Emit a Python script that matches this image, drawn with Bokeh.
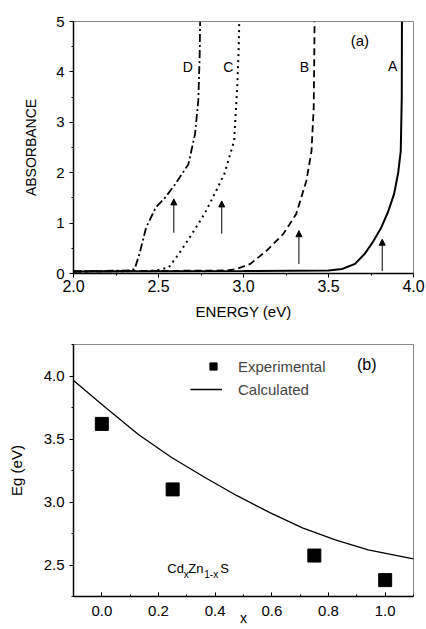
from bokeh.plotting import figure
from bokeh.layouts import column
from bokeh.models import (Arrow, NormalHead, Label, Legend, LegendItem,
                          NumeralTickFormatter, FixedTicker)
from bokeh.embed import file_html
from bokeh.resources import INLINE

FONT = "Liberation Sans"

# ---------------- panel (a) data ----------------
a_energy = [2.0, 3.0, 3.5, 3.58, 3.656, 3.713, 3.76, 3.81, 3.85, 3.886, 3.91, 3.925, 3.931, 3.932]
a_abs    = [0.04, 0.05, 0.06, 0.09, 0.19, 0.39, 0.62, 0.91, 1.22, 1.58, 2.0, 2.43, 3.5, 5.0]

b_energy = [2.0, 2.9, 2.96, 3.04, 3.135, 3.233, 3.31, 3.37, 3.40, 3.413, 3.416, 3.418]
b_abs    = [0.04, 0.06, 0.09, 0.19, 0.45, 0.78, 1.18, 1.84, 2.43, 3.3, 4.2, 5.0]

c_energy = [2.0, 2.45, 2.50, 2.56, 2.618, 2.696, 2.77, 2.83, 2.887, 2.945, 2.964, 2.972, 2.975]
c_abs    = [0.04, 0.05, 0.07, 0.12, 0.38, 0.78, 1.18, 1.58, 1.97, 2.63, 3.76, 4.5, 5.0]

d_energy = [2.0, 2.33, 2.36, 2.388, 2.427, 2.484, 2.54, 2.60, 2.676, 2.715, 2.734, 2.742, 2.745]
d_abs    = [0.04, 0.06, 0.09, 0.39, 0.91, 1.31, 1.51, 1.78, 2.17, 2.77, 3.43, 4.3, 5.0]

arrow_energy = [2.59, 2.872, 3.326, 3.816]
arrow_start  = [0.81, 0.79, 0.19, 0.05]
arrow_end    = [1.48, 1.44, 0.85, 0.68]

curve_labels   = ["D", "C", "B", "A"]
curve_label_x  = [2.672, 2.91, 3.358, 3.877]
curve_label_y  = [4.09, 4.09, 4.09, 4.12]

# ---------------- panel (b) data ----------------
exp_x  = [0.0, 0.25, 0.75, 1.0]
exp_eg = [3.62, 3.10, 2.575, 2.38]

calc_x  = [-0.1, 0.013, 0.129, 0.245, 0.361, 0.477, 0.593, 0.708, 0.824, 0.94, 1.1]
calc_eg = [3.965, 3.75, 3.535, 3.355, 3.198, 3.05, 2.916, 2.795, 2.70, 2.62, 2.548]


def style(p, xsize, ysize, x_in=False):
    p.outline_line_color = "#888888"
    p.outline_line_width = 1
    p.grid.visible = False
    p.background_fill_color = "white"
    p.border_fill_color = "white"
    for ax in (p.xaxis[0], p.yaxis[0]):
        ax.axis_line_color = "black"
        ax.axis_line_width = 1.5
        ax.major_tick_line_color = "black"
        ax.minor_tick_line_color = "black"
        ax.major_label_text_font = FONT
        ax.axis_label_text_font = FONT
        ax.axis_label_text_font_style = "normal"
        ax.axis_label_text_color = "black"
        ax.major_label_text_color = "black"
    p.xaxis[0].major_label_text_font_size = xsize
    p.yaxis[0].major_label_text_font_size = ysize
    p.yaxis[0].major_tick_out = 4
    p.yaxis[0].major_tick_in = 0
    p.yaxis[0].minor_tick_out = 2
    p.yaxis[0].minor_tick_in = 0
    if x_in:
        p.xaxis[0].major_tick_out = 0
        p.xaxis[0].major_tick_in = 4
        p.xaxis[0].minor_tick_out = 0
        p.xaxis[0].minor_tick_in = 2
    else:
        p.xaxis[0].major_tick_out = 4
        p.xaxis[0].major_tick_in = 0
        p.xaxis[0].minor_tick_out = 2
        p.xaxis[0].minor_tick_in = 0


# ---------------- figure (a) ----------------
p1 = figure(width=426, height=325, x_range=(2.0, 4.0), y_range=(0, 5),
            output_backend="svg", toolbar_location=None,
            min_border_left=66, min_border_right=13, min_border_top=21, min_border_bottom=52)
style(p1, "16px", "15px")
p1.xaxis[0].ticker = FixedTicker(ticks=[2.0, 2.5, 3.0, 3.5, 4.0],
                                 minor_ticks=[2.25, 2.75, 3.25, 3.75])
p1.xaxis[0].formatter = NumeralTickFormatter(format="0.0")
p1.yaxis[0].ticker = FixedTicker(ticks=[0, 1, 2, 3, 4, 5],
                                 minor_ticks=[0.5, 1.5, 2.5, 3.5, 4.5])
p1.xaxis[0].axis_label = "ENERGY (eV)"
p1.yaxis[0].axis_label = "ABSORBANCE"
p1.xaxis[0].axis_label_text_font_size = "15px"
p1.yaxis[0].axis_label_text_font_size = "14px"
p1.xaxis[0].axis_label_standoff = 8
p1.yaxis[0].axis_label_standoff = 14
p1.xaxis[0].major_label_standoff = 2

p1.line(a_energy, a_abs, line_color="black", line_width=2)
p1.line(b_energy, b_abs, line_color="black", line_width=1.8, line_dash="7 4")
p1.line(c_energy, c_abs, line_color="black", line_width=2, line_dash="2 4")
p1.line(d_energy, d_abs, line_color="black", line_width=1.8, line_dash="8 3 2 3")

for xe, y0, y1 in zip(arrow_energy, arrow_start, arrow_end):
    p1.add_layout(Arrow(x_start=xe, y_start=y0, x_end=xe, y_end=y1,
                        line_color="black", line_width=1,
                        end=NormalHead(size=6, fill_color="black", line_color="black")))

for t, lx, ly in zip(curve_labels, curve_label_x, curve_label_y):
    p1.add_layout(Label(x=lx, y=ly, text=t, text_font=FONT, text_font_size="14px",
                        text_align="center", text_baseline="middle", text_color="black"))
p1.add_layout(Label(x=3.685, y=4.62, text="(a)", text_font=FONT, text_font_size="15px",
                    text_align="center", text_baseline="middle", text_color="black"))

# ---------------- figure (b) ----------------
p2 = figure(width=426, height=304, x_range=(-0.1, 1.1), y_range=(2.25, 4.25),
            output_backend="svg", toolbar_location=None,
            min_border_left=73, min_border_right=8, min_border_top=19, min_border_bottom=33)
style(p2, "15px", "15px", x_in=True)
p2.xaxis[0].ticker = FixedTicker(ticks=[0.0, 0.2, 0.4, 0.6, 0.8, 1.0],
                                 minor_ticks=[-0.1, 0.1, 0.3, 0.5, 0.7, 0.9, 1.1])
p2.xaxis[0].formatter = NumeralTickFormatter(format="0.0")
p2.yaxis[0].ticker = FixedTicker(ticks=[2.5, 3.0, 3.5, 4.0],
                                 minor_ticks=[2.25, 2.75, 3.25, 3.75, 4.25])
p2.yaxis[0].formatter = NumeralTickFormatter(format="0.0")
p2.xaxis[0].axis_label = "x"
p2.yaxis[0].axis_label = "Eg (eV)"
p2.xaxis[0].axis_label_text_font_size = "14px"
p2.yaxis[0].axis_label_text_font_size = "15px"
p2.xaxis[0].axis_label_standoff = -9
p2.xaxis[0].major_label_standoff = 9
p2.yaxis[0].axis_label_standoff = 16

r_calc = p2.line(calc_x, calc_eg, line_color="black", line_width=1.3)
r_exp = p2.scatter(exp_x, exp_eg, marker="square", size=13, fill_color="black",
                   line_color="black")

legend_common = dict(orientation="vertical", glyph_height=30,
                     label_text_font=FONT, label_text_font_size="15px",
                     label_standoff=16, padding=0, margin=0, spacing=0,
                     border_line_color=None, background_fill_alpha=0)
leg_exp = Legend(items=[LegendItem(label="Experimental", renderers=[r_exp])],
                 location=(131, 215), glyph_width=18, **legend_common)
leg_calc = Legend(items=[LegendItem(label="Calculated", renderers=[r_calc])],
                  location=(117, 192), glyph_width=32, **legend_common)
p2.add_layout(leg_exp, "center")
p2.add_layout(leg_calc, "center")

p2.add_layout(Label(x=0.935, y=4.09, text="(b)", text_font=FONT, text_font_size="16px",
                    text_align="center", text_baseline="middle", text_color="black"))

# Cd_x Zn_(1-x) S composition label
comp_x, comp_y = 0.231, 2.47
comp_parts   = ["Cd", "x", "Zn", "1-x", "S"]
comp_offsets = [0, 16.5, 21, 37, 53]
comp_sub     = [False, True, False, True, False]
for txt, off, sub in zip(comp_parts, comp_offsets, comp_sub):
    p2.add_layout(Label(x=comp_x, y=comp_y, x_offset=off, y_offset=-6 if sub else 0,
                        text=txt, text_font=FONT,
                        text_font_size="10px" if sub else "13px",
                        text_baseline="middle", text_color="black"))

layout = column(p1, p2, spacing=0)
open("out.html", "w").write(file_html(layout, INLINE))
